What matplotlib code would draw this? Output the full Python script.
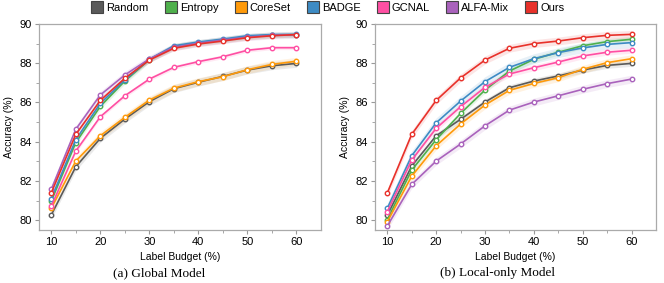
import numpy as np
import matplotlib.pyplot as plt
from matplotlib.lines import Line2D

plt.rcParams['font.family'] = ['Liberation Sans', 'DejaVu Sans']

budgets = [10, 15, 20, 25, 30, 35, 40, 45, 50, 55, 60]
methods = ['Random', 'Entropy', 'CoreSet', 'BADGE', 'GCNAL', 'ALFA-Mix', 'Ours']
colors = ['#5a5a5a', '#4fb04c', '#ff9a0a', '#3d8bc4', '#ff4fa3', '#a962bc', '#e8312a']

# (a) Global Model
global_random = [80.26, 82.72, 84.17, 85.15, 86.04, 86.70, 87.03, 87.33, 87.65, 87.87, 87.99]
global_entropy = [80.97, 83.95, 85.80, 87.09, 88.18, 88.85, 89.05, 89.20, 89.36, 89.44, 89.45]
global_coreset = [80.60, 83.01, 84.30, 85.24, 86.12, 86.73, 87.06, 87.31, 87.67, 87.94, 88.10]
global_badge = [81.10, 84.10, 85.95, 87.15, 88.20, 88.89, 89.08, 89.23, 89.40, 89.46, 89.47]
global_gcnal = [80.71, 83.52, 85.27, 86.34, 87.19, 87.79, 88.08, 88.33, 88.66, 88.79, 88.79]
global_alfamix = [81.57, 84.63, 86.38, 87.40, 88.22, 88.82, 89.02, 89.18, 89.33, 89.42, 89.45]
global_ours = [81.39, 84.37, 86.10, 87.23, 88.16, 88.76, 88.98, 89.13, 89.30, 89.40, 89.46]
global_std = [0.20, 0.15, 0.20, 0.12, 0.10, 0.18, 0.12]

# (b) Local-only Model
local_random = [80.24, 82.76, 84.30, 85.14, 86.02, 86.75, 87.09, 87.35, 87.65, 87.89, 87.99]
local_entropy = [80.03, 82.55, 84.10, 85.44, 86.63, 87.60, 88.20, 88.56, 88.89, 89.10, 89.22]
local_coreset = [79.91, 82.24, 83.79, 84.90, 85.87, 86.62, 86.97, 87.26, 87.69, 88.03, 88.23]
local_badge = [80.60, 83.28, 84.96, 86.07, 87.06, 87.79, 88.23, 88.54, 88.78, 88.96, 89.05]
local_gcnal = [80.43, 83.06, 84.68, 85.78, 86.77, 87.45, 87.77, 88.06, 88.37, 88.56, 88.66]
local_alfamix = [79.70, 81.82, 83.01, 83.88, 84.81, 85.61, 86.02, 86.34, 86.67, 86.96, 87.19]
local_ours = [81.38, 84.37, 86.10, 87.25, 88.16, 88.76, 89.00, 89.13, 89.30, 89.42, 89.47]
local_std = [0.15, 0.15, 0.20, 0.25, 0.15, 0.20, 0.20]

panels = [
    ('(a) Global Model', [global_random, global_entropy, global_coreset, global_badge,
                          global_gcnal, global_alfamix, global_ours], global_std),
    ('(b) Local-only Model', [local_random, local_entropy, local_coreset, local_badge,
                              local_gcnal, local_alfamix, local_ours], local_std),
]

fig = plt.figure(figsize=(6.64, 2.83), dpi=100)
ax_rects = [[0.0587, 0.1873, 0.4247, 0.728], [0.5648, 0.1873, 0.4232, 0.728]]
caption_x = [0.24, 0.75]

for (caption, series, stds), rect, cx in zip(panels, ax_rects, caption_x):
    ax = fig.add_axes(rect)
    for vals, std, color in zip(series, stds, colors):
        vals = np.array(vals)
        ax.fill_between(budgets, vals - std, vals + std, color=color, alpha=0.12, linewidth=0)
        ax.plot(budgets, vals, color=color, lw=1.2, marker='o', ms=3.2,
                mfc='white', mec=color, mew=1.0)
    ax.set_xlim(7.5, 65)
    ax.set_ylim(79.5, 90)
    ax.set_xticks([10, 20, 30, 40, 50, 60])
    ax.set_xticks([15, 25, 35, 45, 55], minor=True)
    ax.set_yticks([80, 82, 84, 86, 88, 90])
    ax.set_yticks([81, 83, 85, 87, 89], minor=True)
    ax.tick_params(axis='both', which='major', labelsize=8, length=3, width=0.8,
                   color='#999999', pad=2)
    ax.tick_params(axis='both', which='minor', length=2, width=0.6, color='#999999')
    for sp in ax.spines.values():
        sp.set_color('#aaaaaa')
        sp.set_linewidth(0.9)
    ax.set_xlabel('Label Budget (%)', fontsize=7.5, labelpad=4)
    ax.set_ylabel('Accuracy (%)', fontsize=7.5, labelpad=4)
    fig.text(cx, 0.035, caption, ha='center', va='center', fontsize=9.5,
             family=['Liberation Serif', 'DejaVu Serif'])

handles = [Line2D([], [], ls='none', marker='s', ms=8.5, mfc=c, mec='#444444', mew=0.8)
           for c in colors]
fig.legend(handles, methods, loc='center', bbox_to_anchor=(0.494, 0.972), ncol=7,
           frameon=False, fontsize=8, handletextpad=0.3, columnspacing=1.5,
           handlelength=1.0, borderpad=0)

fig.savefig('out.png', dpi=100)
